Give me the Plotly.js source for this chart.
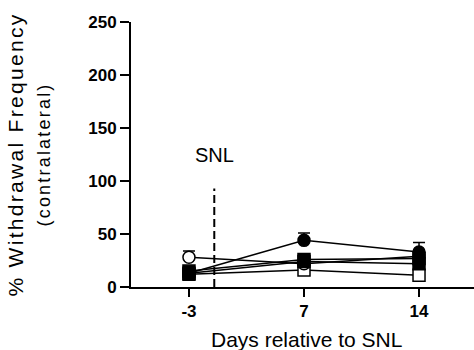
<!DOCTYPE html>
<html><head><meta charset="utf-8">
<script src="https://cdn.plot.ly/plotly-3.0.1.min.js"></script>
<style>html,body{margin:0;padding:0;background:#fff}#c{width:474px;height:350px}
.ytitle{letter-spacing:2.3px}</style>
</head><body><div id="c"></div>
<script>
const days = ['-3', '7', '14'];
const filledCircle = [13, 44, 33];
const filledCircleErr = [3, 7, 9];
const openCircle = [28, 22, 29];
const openCircleErr = [6, 3, 4];
const filledSquareA = [15, 26, 27];
const filledSquareAErr = [3, 4, 4];
const filledSquareB = [13, 24, 22];
const filledSquareBErr = [2, 3, 3];
const openSquare = [12, 16, 11];
const openSquareErr = [2, 3, 3];
const snlDay = 0.22; // position between -3 and 7 (category index)

function series(y, err, symbol, fill) {
  return {
    x: days, y: y, type: 'scatter', mode: 'lines+markers',
    line: {color: '#000', width: 1.5},
    marker: {symbol: symbol, size: 12, color: fill, line: {color: '#000', width: 1.5}},
    error_y: {type: 'data', symmetric: false, array: err, arrayminus: err.map(() => 0),
      color: '#000', thickness: 1.5, width: 6},
    showlegend: false, cliponaxis: false
  };
}
const data = [
  series(openSquare, openSquareErr, 'square', '#fff'),
  series(openCircle, openCircleErr, 'circle', '#fff'),
  series(filledSquareB, filledSquareBErr, 'square', '#000'),
  series(filledSquareA, filledSquareAErr, 'square', '#000'),
  series(filledCircle, filledCircleErr, 'circle', '#000')
];

const layout = {
  width: 474, height: 350,
  margin: {l: 131, r: 0, t: 22, b: 63},
  paper_bgcolor: '#fff', plot_bgcolor: '#fff',
  font: {family: 'Liberation Sans, Arial, sans-serif', color: '#000'},
  xaxis: {
    type: 'category', range: [-0.504, 2.478],
    showline: true, linecolor: '#000', linewidth: 2,
    ticks: 'outside', ticklen: 8, tickwidth: 2, tickcolor: '#000',
    showgrid: false, zeroline: false,
    tickfont: {size: 17, weight: 'bold', color: '#000'}
  },
  yaxis: {
    range: [0, 250], tickvals: [0, 50, 100, 150, 200, 250],
    showline: true, linecolor: '#000', linewidth: 2,
    ticks: 'outside', ticklen: 9, tickwidth: 2, tickcolor: '#000',
    showgrid: false, zeroline: false,
    tickfont: {size: 17, weight: 'bold', color: '#000'},
    title: {text: '% Withdrawal Frequency<br><span style="font-size:18px;letter-spacing:2.2px">(contralateral)</span>',
      font: {size: 21, color: '#000'}, standoff: 32}
  },
  shapes: [{type: 'line', xref: 'x', yref: 'y', x0: snlDay, x1: snlDay, y0: 0, y1: 93,
    line: {color: '#000', width: 2, dash: '8px,4px'}}],
  annotations: [
    {x: snlDay, y: 125, xref: 'x', yref: 'y', text: 'SNL', showarrow: false,
      font: {size: 20, color: '#000'}},
    {x: 0.513, y: -0.198, xref: 'paper', yref: 'paper', text: 'Days relative to SNL', showarrow: false,
      xanchor: 'center', yanchor: 'middle', font: {size: 21, color: '#000'}}
  ]
};
Plotly.newPlot('c', data, layout, {displayModeBar: false, staticPlot: true});
</script></body></html>
